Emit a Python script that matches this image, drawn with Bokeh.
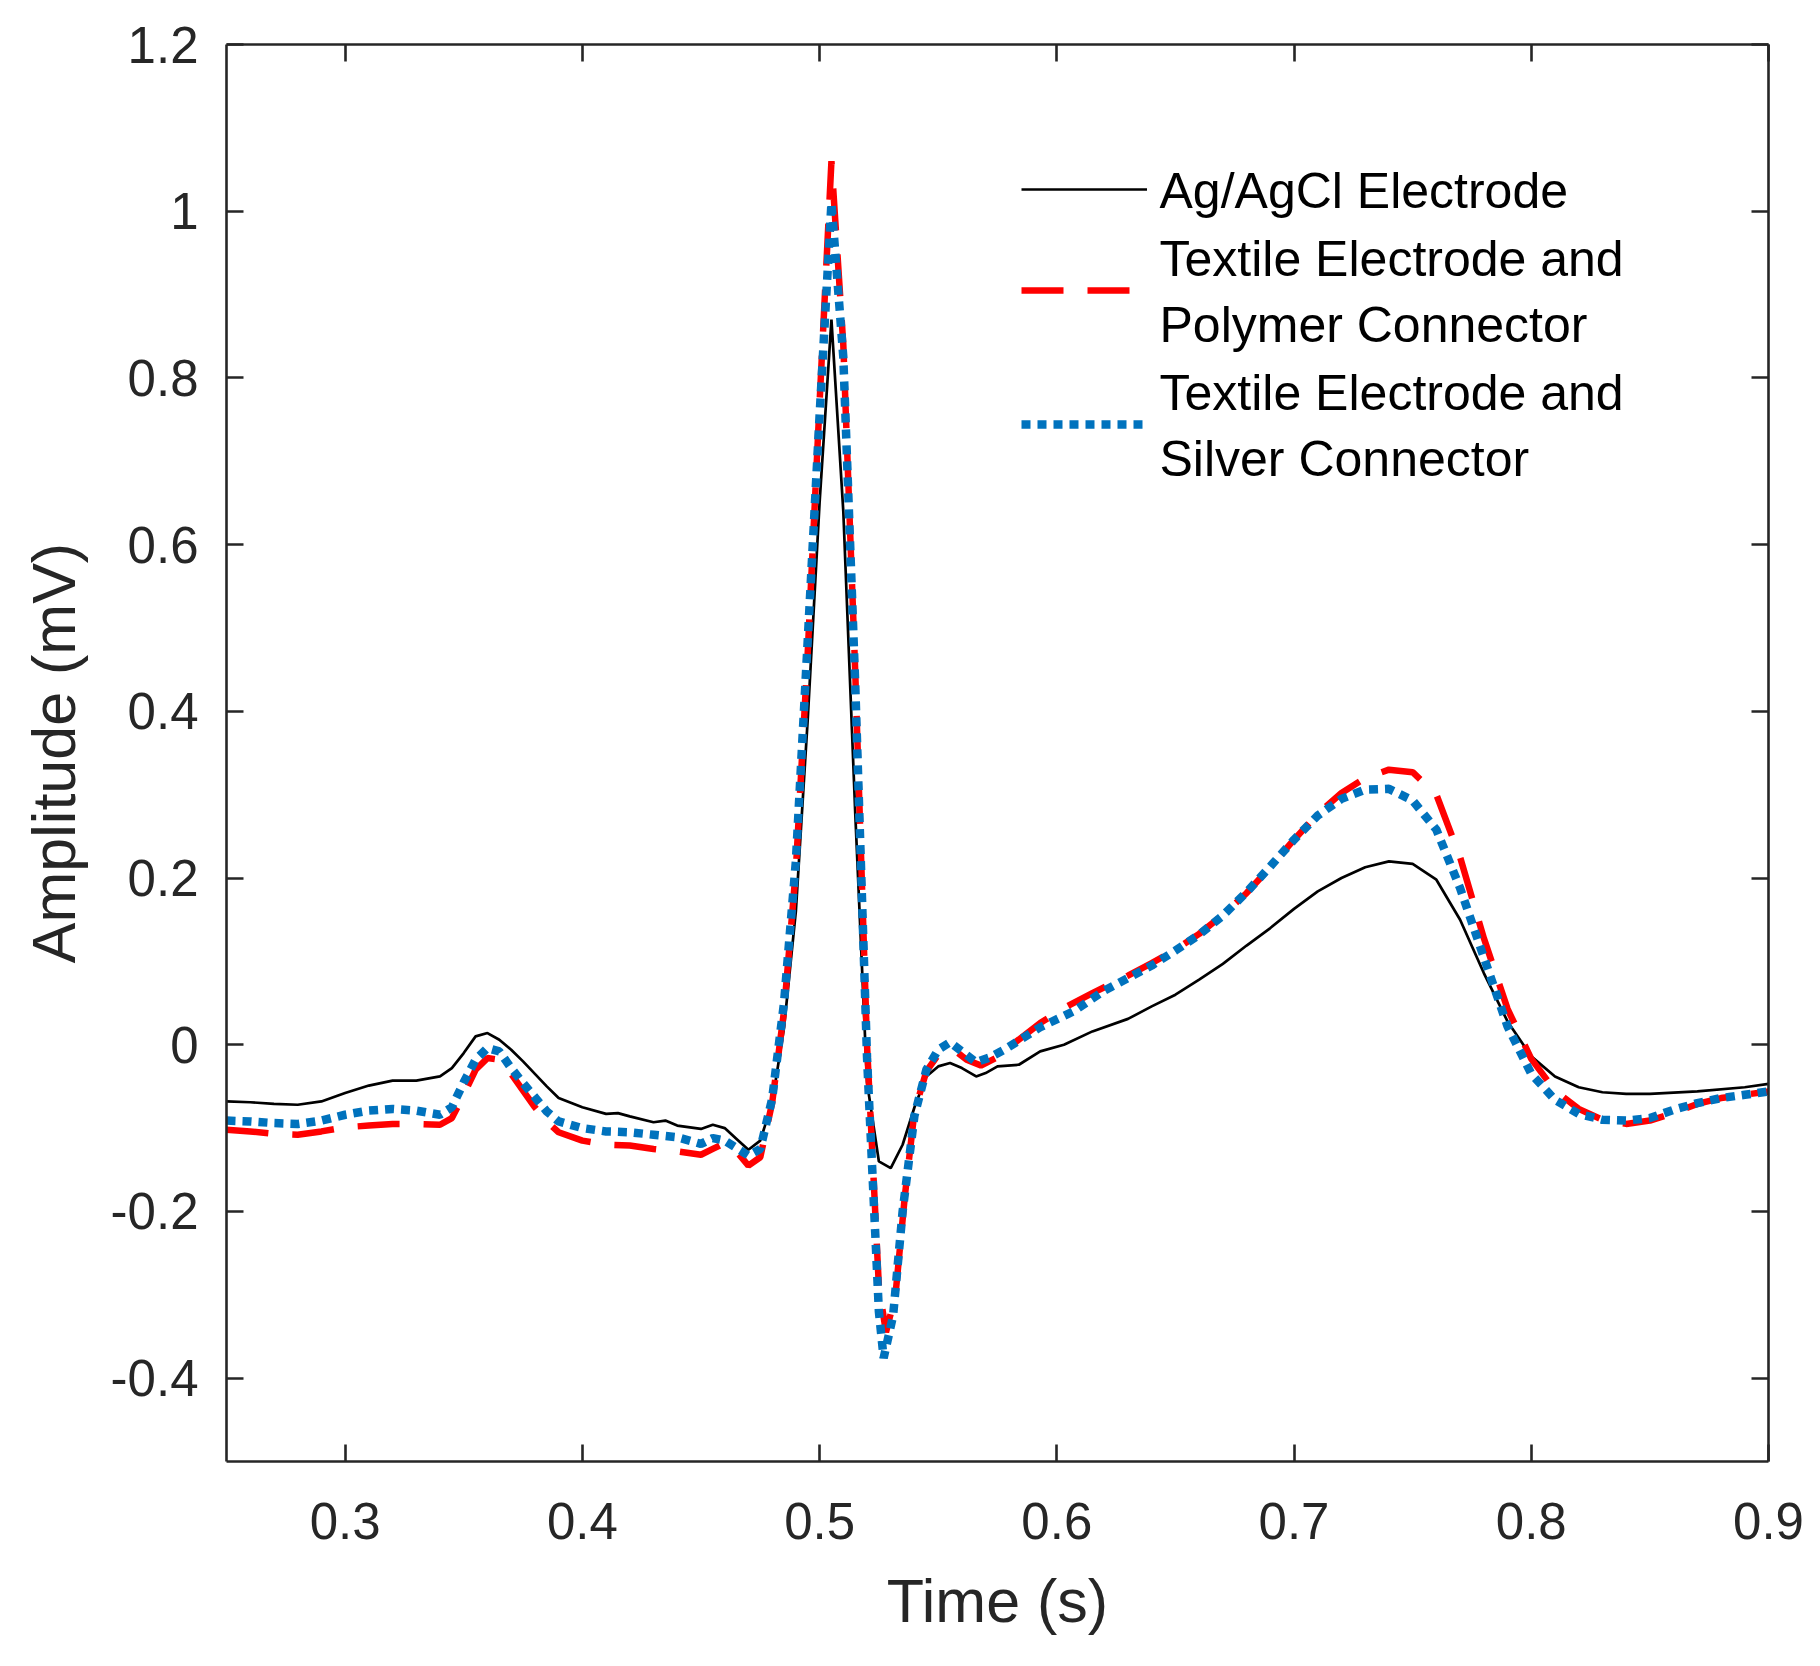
from bokeh.plotting import figure
from bokeh.models import (Range1d, LinearAxis, FixedTicker, Legend, LegendItem,
                          Label, CustomJSTickFormatter)
from bokeh.embed import file_html
from bokeh.resources import INLINE

# ---------------- data ----------------
t_agcl = [0.250, 0.260, 0.270, 0.280, 0.290, 0.300, 0.310, 0.320, 0.330, 0.340,
          0.345, 0.350, 0.355, 0.360, 0.365, 0.370, 0.375, 0.380, 0.385, 0.390,
          0.400, 0.410, 0.415, 0.420, 0.430, 0.435, 0.440, 0.450, 0.455, 0.460,
          0.465, 0.470, 0.475, 0.480, 0.485, 0.490, 0.495, 0.500, 0.505, 0.510,
          0.515, 0.520, 0.525, 0.530, 0.535, 0.540, 0.545, 0.550, 0.555, 0.560,
          0.566, 0.570, 0.575, 0.584, 0.593, 0.603, 0.615, 0.630, 0.640, 0.650,
          0.660, 0.670, 0.680, 0.690, 0.700, 0.710, 0.720, 0.730, 0.740, 0.750,
          0.760, 0.770, 0.780, 0.790, 0.800, 0.810, 0.820, 0.830, 0.840, 0.850,
          0.870, 0.890, 0.900]
v_agcl = [-0.068, -0.069, -0.071, -0.072, -0.068, -0.058, -0.049, -0.043, -0.043, -0.038,
          -0.028, -0.010, 0.010, 0.014, 0.006, -0.006, -0.020, -0.035, -0.050, -0.064,
          -0.075, -0.083, -0.082, -0.086, -0.093, -0.091, -0.097, -0.101, -0.096, -0.100,
          -0.113, -0.126, -0.115, -0.070, 0.020, 0.160, 0.390, 0.650, 0.870, 0.640,
          0.280, -0.045, -0.140, -0.148, -0.120, -0.075, -0.038, -0.026, -0.022, -0.028,
          -0.038, -0.034, -0.026, -0.024, -0.008, 0.000, 0.016, 0.031, 0.046, 0.060,
          0.078, 0.097, 0.119, 0.140, 0.163, 0.184, 0.200, 0.213, 0.220, 0.217,
          0.198, 0.150, 0.086, 0.028, -0.014, -0.038, -0.051, -0.057, -0.059, -0.059,
          -0.056, -0.051, -0.047]

t_polymer = [0.250, 0.260, 0.270, 0.280, 0.290, 0.300, 0.310, 0.320, 0.330, 0.340,
             0.345, 0.350, 0.355, 0.360, 0.365, 0.370, 0.375, 0.380, 0.385, 0.390,
             0.400, 0.410, 0.420, 0.430, 0.440, 0.450, 0.455, 0.460, 0.465, 0.470,
             0.475, 0.480, 0.485, 0.490, 0.495, 0.500, 0.505, 0.510, 0.515, 0.520,
             0.525, 0.528, 0.532, 0.536, 0.540, 0.545, 0.550, 0.557, 0.562, 0.568,
             0.575, 0.583, 0.593, 0.603, 0.615, 0.630, 0.640, 0.650, 0.660, 0.670,
             0.680, 0.690, 0.700, 0.710, 0.720, 0.730, 0.740, 0.750, 0.760, 0.770,
             0.780, 0.790, 0.800, 0.810, 0.820, 0.830, 0.840, 0.850, 0.860, 0.870,
             0.880, 0.890, 0.900]
v_polymer = [-0.102, -0.104, -0.107, -0.108, -0.104, -0.099, -0.097, -0.095, -0.095, -0.096,
             -0.088, -0.060, -0.030, -0.016, -0.018, -0.035, -0.055, -0.075, -0.092, -0.105,
             -0.115, -0.120, -0.121, -0.125, -0.128, -0.132, -0.125, -0.118, -0.128, -0.145,
             -0.135, -0.070, 0.040, 0.210, 0.470, 0.770, 1.060, 0.840, 0.450, 0.000,
             -0.290, -0.345, -0.300, -0.180, -0.080, -0.032, -0.012, -0.007, -0.018, -0.025,
             -0.015, 0.004, 0.026, 0.044, 0.062, 0.083, 0.098, 0.114, 0.133, 0.156,
             0.182, 0.213, 0.246, 0.277, 0.302, 0.320, 0.330, 0.327, 0.300, 0.225,
             0.128, 0.043, -0.017, -0.055, -0.077, -0.090, -0.095, -0.091, -0.082, -0.071,
             -0.064, -0.060, -0.056]

t_silver = [0.250, 0.260, 0.270, 0.280, 0.290, 0.300, 0.310, 0.320, 0.330, 0.340,
            0.345, 0.350, 0.355, 0.360, 0.365, 0.370, 0.375, 0.380, 0.385, 0.390,
            0.400, 0.410, 0.420, 0.430, 0.440, 0.450, 0.455, 0.460, 0.465, 0.470,
            0.475, 0.480, 0.485, 0.490, 0.495, 0.500, 0.505, 0.510, 0.515, 0.520,
            0.525, 0.527, 0.531, 0.535, 0.540, 0.545, 0.550, 0.555, 0.560, 0.566,
            0.572, 0.579, 0.593, 0.607, 0.620, 0.630, 0.640, 0.650, 0.660, 0.670,
            0.680, 0.690, 0.700, 0.710, 0.720, 0.730, 0.740, 0.750, 0.760, 0.770,
            0.780, 0.790, 0.800, 0.810, 0.820, 0.830, 0.840, 0.850, 0.860, 0.870,
            0.880, 0.890, 0.900]
v_silver = [-0.091, -0.092, -0.094, -0.095, -0.091, -0.084, -0.079, -0.077, -0.079, -0.084,
            -0.075, -0.045, -0.018, -0.004, -0.008, -0.028, -0.046, -0.063, -0.080, -0.092,
            -0.100, -0.104, -0.105, -0.108, -0.111, -0.119, -0.112, -0.115, -0.124, -0.133,
            -0.125, -0.065, 0.050, 0.220, 0.485, 0.755, 1.010, 0.825, 0.435, -0.015,
            -0.320, -0.376, -0.325, -0.200, -0.085, -0.030, -0.006, 0.003, -0.008, -0.021,
            -0.015, -0.004, 0.021, 0.040, 0.065, 0.080, 0.095, 0.113, 0.132, 0.155,
            0.183, 0.214, 0.246, 0.275, 0.295, 0.306, 0.307, 0.293, 0.258, 0.188,
            0.105, 0.022, -0.035, -0.066, -0.083, -0.090, -0.091, -0.088, -0.078, -0.070,
            -0.064, -0.060, -0.056]

series_label_lines = [["Ag/AgCl Electrode"],
                      ["Textile Electrode and", "Polymer Connector"],
                      ["Textile Electrode and", "Silver Connector"]]

x_ticks = [0.3, 0.4, 0.5, 0.6, 0.7, 0.8, 0.9]
x_tick_labels = ["0.3", "0.4", "0.5", "0.6", "0.7", "0.8", "0.9"]
y_ticks = [-0.4, -0.2, 0, 0.2, 0.4, 0.6, 0.8, 1, 1.2]
y_tick_labels = ["-0.4", "-0.2", "0", "0.2", "0.4", "0.6", "0.8", "1", "1.2"]

# ---------------- figure ----------------
FONT = "Liberation Sans"
AX = "#262626"
X0, X1, Y0, Y1 = 0.25, 0.9, -0.5, 1.2
FRAME_W, FRAME_H = 1542, 1417

p = figure(width=1804, height=1650, output_backend="svg", toolbar_location=None,
           x_range=Range1d(X0, X1), y_range=Range1d(Y0, Y1),
           min_border_left=226, min_border_right=36, min_border_top=44,
           min_border_bottom=189, x_axis_location=None, y_axis_location=None)
p.grid.visible = False
p.outline_line_color = None
p.background_fill_color = "white"
p.border_fill_color = "white"

def style_axis(ax, ticks, labels, show_labels):
    ax.ticker = FixedTicker(ticks=ticks)
    ax.axis_line_color = AX
    ax.axis_line_width = 2.6
    ax.major_tick_line_color = AX
    ax.major_tick_line_width = 2.6
    ax.major_tick_in = 17
    ax.major_tick_out = 0
    ax.minor_tick_line_color = None
    ax.major_label_text_font = FONT
    ax.major_label_text_color = AX
    if show_labels:
        ax.major_label_overrides = {t: l for t, l in zip(ticks, labels)}
        ax.major_label_text_font_size = "51px"
    else:
        ax.formatter = CustomJSTickFormatter(code="return ''")
        ax.major_label_text_font_size = "10px"
        ax.major_label_standoff = 0

xb = LinearAxis(axis_label="Time (s)")
style_axis(xb, x_ticks, x_tick_labels, True)
xb.major_label_standoff = 41
xb.axis_label_standoff = 25
xb.axis_label_text_font = FONT
xb.axis_label_text_font_size = "61px"
xb.axis_label_text_font_style = "normal"
xb.axis_label_text_color = AX
p.add_layout(xb, "below")

yl = LinearAxis(axis_label="Amplitude (mV)")
style_axis(yl, y_ticks, y_tick_labels, True)
yl.major_label_standoff = 28
yl.axis_label_standoff = 20
yl.axis_label_text_font = FONT
yl.axis_label_text_font_size = "61px"
yl.axis_label_text_font_style = "normal"
yl.axis_label_text_color = AX
p.add_layout(yl, "left")

xt = LinearAxis()
style_axis(xt, x_ticks, x_tick_labels, False)
p.add_layout(xt, "above")
yr = LinearAxis()
style_axis(yr, y_ticks, y_tick_labels, False)
p.add_layout(yr, "right")

r1 = p.line(t_agcl, v_agcl, line_color="black", line_width=2.7)
r2 = p.line(t_polymer, v_polymer, line_color="#FF0000", line_width=6.5,
            line_dash="42 24")
r3 = p.line(t_silver, v_silver, line_color="#0072BD", line_width=8.5,
            line_dash="9 7")

# ---------------- legend (glyph samples + text lines) ----------------
# glyph centres, pixels from frame top; text starts 933 px from frame left
glyph_left = 795
glyph_centres = [145, 246, 380]
line_centres = [[146], [214, 280], [348, 414]]
text_left = 933

def px_to_x(px):
    return X0 + px / FRAME_W * (X1 - X0)

def py_to_y(py):
    return Y1 - py / FRAME_H * (Y1 - Y0)

for r, gc, lines, lc in zip([r1, r2, r3], glyph_centres, series_label_lines, line_centres):
    lg = Legend(items=[LegendItem(label="", renderers=[r])],
                location=(glyph_left, FRAME_H - gc - 10))
    lg.glyph_width = 126
    lg.glyph_height = 20
    lg.label_height = 20
    lg.label_width = 0
    lg.label_standoff = 0
    lg.label_text_font_size = "10px"
    lg.padding = 0
    lg.margin = 0
    lg.spacing = 0
    lg.border_line_color = None
    lg.background_fill_alpha = 0
    p.add_layout(lg, "center")
    for txt, c in zip(lines, lc):
        p.add_layout(Label(x=px_to_x(text_left), y=py_to_y(c), text=txt,
                           text_font=FONT, text_font_size="50px",
                           text_color="black", text_baseline="middle",
                           text_align="left"))

open("out.html", "w").write(file_html(p, INLINE))
